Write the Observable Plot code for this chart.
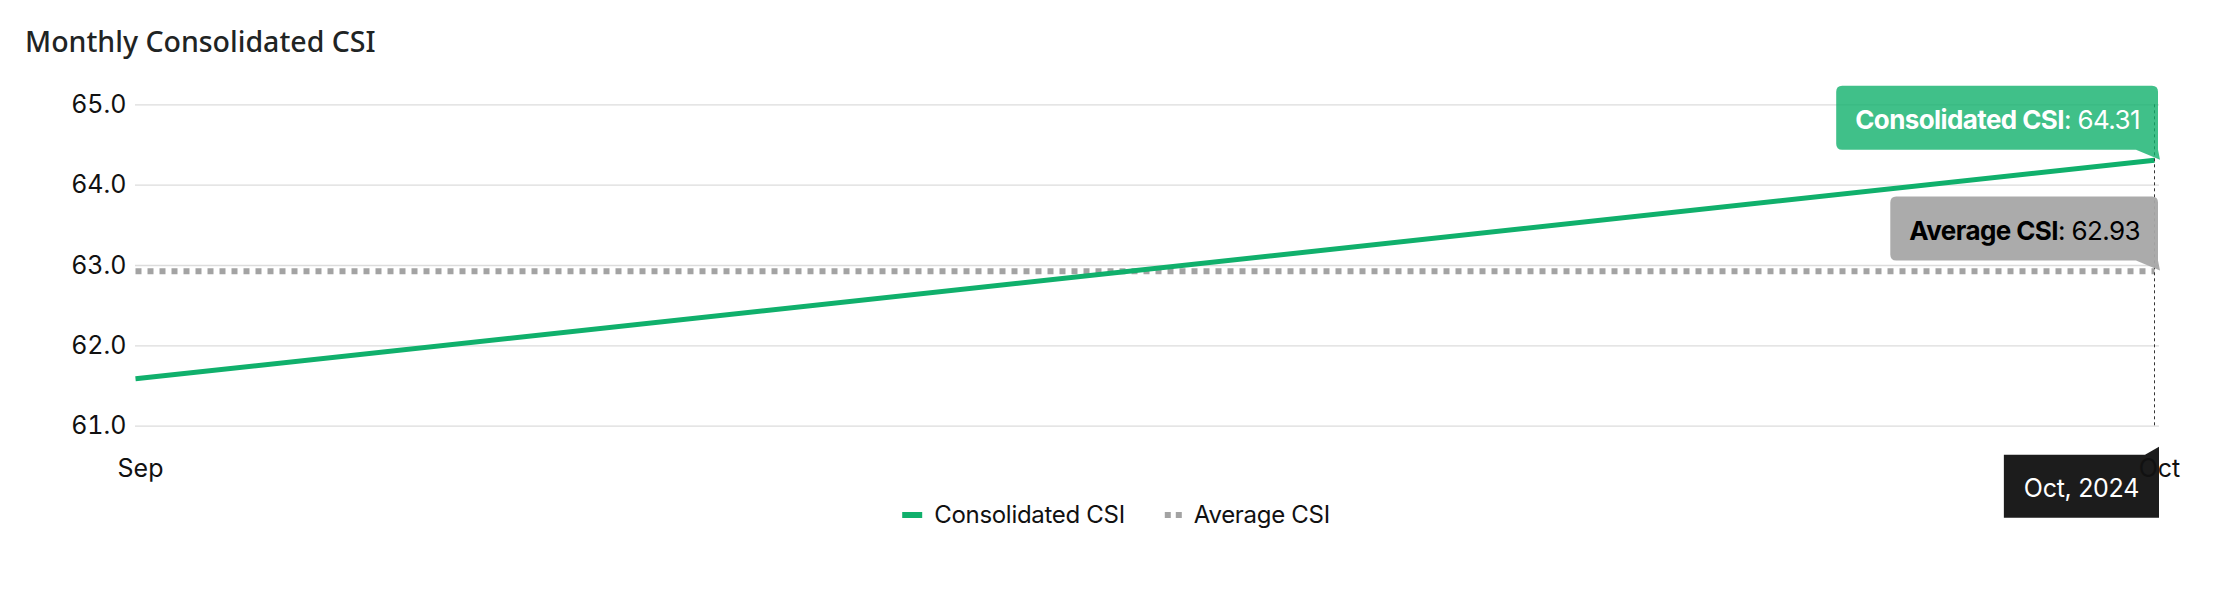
<!DOCTYPE html>
<html>
<head>
<meta charset="utf-8">
<script src="https://cdn.jsdelivr.net/npm/d3@7"></script>
<script src="https://cdn.jsdelivr.net/npm/@observablehq/plot@0.6"></script>
<style>
  html, body { margin: 0; padding: 0; background: #fff; }
  #wrap { position: relative; width: 2222px; height: 594px; overflow: hidden; }
  #title { position: absolute; left: 25px; top: 27px; font-family: "Noto Sans", sans-serif; font-weight: 500;
           font-size: 28.5px; line-height: 28px; color: #1f2424; white-space: nowrap; }
  svg text { font-family: Inter, sans-serif; }
</style>
</head>
<body>
<div id="wrap">
  <div id="title">Monthly Consolidated CSI</div>
</div>
<script>
const months = ["Sep", "Oct"];
const year = "2024";
const consolidated = [61.59, 64.31];
const average = [62.93, 62.93];
const yTicks = [61, 62, 63, 64, 65];
const seriesNames = ["Consolidated CSI", "Average CSI"];
const seriesColors = ["#10b06c", "#a3a3a3"];

const consData = months.map((m, i) => ({month: m, value: consolidated[i]}));
const avgData = months.map((m, i) => ({month: m, value: average[i]}));
const lastIdx = months.length - 1;

const chart = Plot.plot({
  width: 2222,
  height: 594,
  marginTop: 104.3,
  marginBottom: 168.3,
  marginLeft: 135,
  marginRight: 68,
  style: {fontFamily: "Inter, sans-serif", fontSize: "25px", color: "#111", background: "#fff", overflow: "visible"},
  x: {type: "point", domain: months, padding: 0, label: null, tickSize: 0, tickPadding: 33},
  y: {domain: [61, 65], ticks: yTicks, tickFormat: d => d.toFixed(1), tickSize: 0, tickPadding: 9, label: null},
  marks: [
    Plot.ruleY(yTicks, {stroke: "#dcdcdc", strokeWidth: 1.3, insetRight: -5}),
    Plot.line(avgData, {x: "month", y: "value", stroke: seriesColors[1], strokeWidth: 6, strokeDasharray: "6,6", strokeLinecap: "butt"}),
    Plot.line(consData, {x: "month", y: "value", stroke: seriesColors[0], strokeWidth: 5, strokeLinecap: "butt"}),
    Plot.ruleX([months[lastIdx]], {y1: 65, y2: 61, stroke: "#333", strokeWidth: 1, strokeDasharray: "3,3"}),
    Plot.axisX({tickSize: 0, tickPadding: 33, dx: 5, fontSize: 25})
  ]
});
chart.style.position = "absolute";
chart.style.left = "0px";
chart.style.top = "0px";
document.getElementById("wrap").prepend(chart);

const xs = chart.scale("x"), ys = chart.scale("y");
const svg = d3.select(chart);
const g = svg.append("g").attr("text-anchor", "start");

function tooltip(px, py, label, value, fill, fillOpacity, textColor) {
  const t = g.append("g");
  const path = t.append("path");
  const text = t.append("text")
    .attr("x", px + 4 - 18).attr("y", py - 31)
    .attr("text-anchor", "end").attr("fill", textColor)
    .style("font-size", "26px").style("letter-spacing", "-0.6px");
  text.append("tspan").attr("font-weight", 700).text(label);
  text.append("tspan").text(": " + value);
  const w = text.node().getComputedTextLength();
  const x1 = px + 4, x0 = x1 - 18 - w - 19, y1 = py - 10, y0 = y1 - 64, r = 6;
  path.attr("d", `M${x0 + r},${y0} H${x1 - r} Q${x1},${y0} ${x1},${y0 + r} V${y1} L${px + 6},${py} L${x1 - 22},${y1} H${x0 + r} Q${x0},${y1} ${x0},${y1 - r} V${y0 + r} Q${x0},${y0} ${x0 + r},${y0} Z`)
    .attr("fill", fill).attr("fill-opacity", fillOpacity);
}

const px = xs.apply(months[lastIdx]);
tooltip(px, ys.apply(consolidated[lastIdx]), seriesNames[0], consolidated[lastIdx].toFixed(2), "#10b06c", 0.8, "#fff");
tooltip(px, ys.apply(average[lastIdx]), seriesNames[1], average[lastIdx].toFixed(2), "#a6a6a6", 0.95, "#000");

// date tooltip
const yb = ys.apply(61);
{
  const t = g.append("g");
  const rect = t.append("path");
  const text = t.append("text").attr("text-anchor", "middle").attr("fill", "#fff")
    .style("font-size", "25px").style("letter-spacing", "-0.3px")
    .text(months[lastIdx] + ", " + year);
  const w = text.node().getComputedTextLength();
  const x1 = px + 5, x0 = x1 - w - 40, y0 = yb + 29, y1 = yb + 92;
  text.attr("x", (x0 + x1) / 2).attr("y", yb + 71.5);
  rect.attr("d", `M${x0},${y0} H${x1 - 14} L${x1},${y0 - 8} V${y1} H${x0} Z`).attr("fill", "#1c1c1c");
}
// the x-axis tick labels sit above the tooltip, as in the reference
svg.selectAll('g[aria-label="x-axis tick label"]').raise();

// legend
{
  const lg = svg.append("g").attr("text-anchor", "start");
  let x = 0;
  seriesNames.forEach((name, i) => {
    const sw = i === 0 ? 20 : 17;
    const it = lg.append("g");
    it.append("line").attr("x1", x).attr("x2", x + sw).attr("y1", 515).attr("y2", 515)
      .attr("stroke", seriesColors[i]).attr("stroke-width", 6)
      .attr("stroke-dasharray", i === 0 ? null : "6,5");
    const tx = it.append("text").attr("x", x + sw + 12).attr("y", 523).attr("fill", "#111")
      .attr("text-anchor", "start")
      .style("font-size", "24px").style("letter-spacing", "-0.3px").text(name);
    const w = tx.node().getComputedTextLength();
    x += sw + 12 + w + 40;
  });
  const total = x - 40;
  lg.attr("transform", `translate(${1116 - total / 2},0)`);
}
</script>
</body>
</html>
